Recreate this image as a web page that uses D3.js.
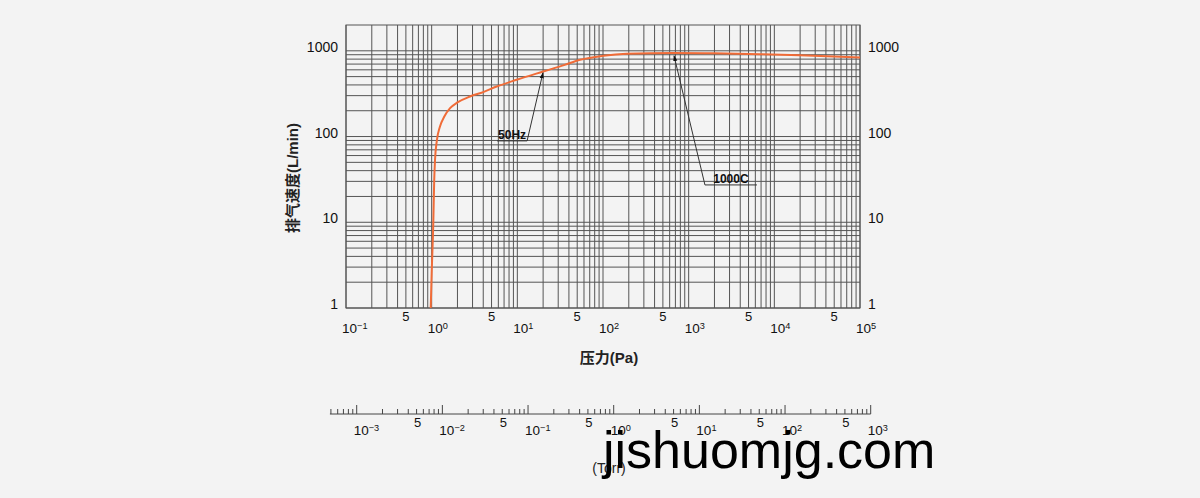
<!DOCTYPE html>
<html><head><meta charset="utf-8">
<script src="https://cdn.jsdelivr.net/npm/d3@7"></script>
<style>
html,body{margin:0;padding:0;background:#f3f3f3;}
svg{display:block;font-family:"Liberation Sans",Arial,Helvetica,sans-serif;}
</style></head>
<body><svg id="chart" width="1200" height="498"></svg>
<script>
// ---- data ----
const pressurePa = [0.975, 1.0, 1.045, 1.07, 1.094, 1.15, 1.25, 1.4, 1.64, 2.0, 2.8, 4, 5.74, 9.8, 20, 35, 54, 101, 189, 661, 2000, 6760, 20000, 50000, 100000];
const speedLmin  = [1, 2.5, 10, 30, 53, 90, 131, 170, 214, 250, 293, 330, 383, 459, 573, 680, 785, 874, 922, 940, 935, 914, 890, 860, 836];
const yTickValues = [1, 10, 100, 1000];
const yTickLabels = ["1", "10", "100", "1000"];
const xDecades = [-1, 0, 1, 2, 3, 4, 5];
const xFiveDecades = [-1, 0, 1, 2, 3, 4];
const torrDecades = [-3, -2, -1, 0, 1, 2, 3];
const torrFiveDecades = [-3, -2, -1, 0, 1, 2];
const torrMinorStart = [5e-4, 6e-4, 7e-4, 8e-4, 9e-4];
const annotations = [
  {text: "50Hz", tip: [19.9, 553], lineFrom: [13, 91.4], lineTo: [5.8, 91.4]},
  {text: "1000C", tip: [675, 874], lineFrom: [1549, 28], lineTo: [6266, 28]}
];
const xTitle = "压力(Pa)";
const yTitle = "排气速度(L/min)";
const torrTitle = "(Torr)";
const watermark = "jishuomjg.com";
const PA_PER_TORR = 133.322;

// ---- scales ----
const svg = d3.select("#chart");
const x = d3.scaleLog().domain([0.1, 1e5]).range([346, 860]);
const y = d3.scaleLog().domain([1, 2000]).range([308, 25]);
const [x0, x1] = x.range(), [y0, y1] = y.range();

// grid
const vGrid = [];
for (let d = -1; d <= 4; d++) for (let m = 1; m <= 9; m++) vGrid.push(m * Math.pow(10, d));
vGrid.push(1e5);
const hGrid = [];
for (let d = 0; d <= 2; d++) for (let m = 1; m <= 9; m++) hGrid.push(m * Math.pow(10, d));
hGrid.push(1000);

const g = svg.append("g");
g.selectAll("line.v").data(vGrid).join("line")
  .attr("x1", d => x(d)).attr("x2", d => x(d)).attr("y1", y1).attr("y2", y0)
  .attr("stroke", "#555").attr("stroke-width", 1);
g.selectAll("line.h").data(hGrid).join("line")
  .attr("y1", d => y(d)).attr("y2", d => y(d)).attr("x1", x0).attr("x2", x1)
  .attr("stroke", "#555").attr("stroke-width", 1);
g.append("rect").attr("x", x0).attr("y", y1).attr("width", x1 - x0).attr("height", y0 - y1)
  .attr("fill", "none").attr("stroke", "#555").attr("stroke-width", 1);

// y labels both sides
yTickValues.forEach((v, i) => {
  svg.append("text").attr("x", 338).attr("y", y(v) + 1).attr("text-anchor", "end")
    .attr("font-size", 14).attr("fill", "#111").text(yTickLabels[i]);
  svg.append("text").attr("x", 868).attr("y", y(v) + 1).attr("text-anchor", "start")
    .attr("font-size", 14).attr("fill", "#111").text(yTickLabels[i]);
});

// decade label helper
function decadeLabel(px, base, exp, size) {
  const t = svg.append("text").attr("x", px).attr("y", base).attr("font-size", size).attr("fill", "#111");
  t.append("tspan").text("10");
  t.append("tspan").attr("font-size", size * 0.68).attr("dy", -size * 0.3)
    .text(exp < 0 ? "\u2212" + (-exp) : String(exp));
}

// x labels
xFiveDecades.forEach(d => {
  svg.append("text").attr("x", x(5 * Math.pow(10, d))).attr("y", 321).attr("text-anchor", "middle")
    .attr("font-size", 13).attr("fill", "#111").text("5");
});
xDecades.forEach(d => decadeLabel(x(Math.pow(10, d)) - 4, 333, d, 13.5));

// titles
svg.append("text").attr("x", 609).attr("y", 363).attr("text-anchor", "middle")
  .attr("font-size", 15).attr("font-weight", "bold").attr("fill", "#222")
  .attr("font-family", "'Liberation Sans','Noto Sans CJK SC',sans-serif").text(xTitle);
svg.append("text").attr("transform", "translate(298,178) rotate(-90)").attr("text-anchor", "middle")
  .attr("font-size", 15).attr("font-weight", "bold").attr("fill", "#222")
  .attr("font-family", "'Liberation Sans','Noto Sans CJK SC',sans-serif").text(yTitle);

// curve
const line = d3.line().x(d => x(d[0])).y(d => y(d[1])).curve(d3.curveMonotoneX);
svg.append("path").datum(pressurePa.map((p, i) => [p, speedLmin[i]]))
  .attr("d", line).attr("fill", "none").attr("stroke", "#f06c38").attr("stroke-width", 2);

// annotations
svg.append("defs").append("marker").attr("id", "arr").attr("viewBox", "0 0 10 10")
  .attr("refX", 9).attr("refY", 5).attr("markerWidth", 6).attr("markerHeight", 6)
  .attr("orient", "auto").append("path").attr("d", "M0,1.5 L10,5 L0,8.5 Z").attr("fill", "#111");
annotations.forEach(a => {
  svg.append("line").attr("x1", x(a.lineTo[0])).attr("y1", y(a.lineTo[1]) + 1)
    .attr("x2", x(a.lineFrom[0])).attr("y2", y(a.lineFrom[1]) + 1).attr("stroke", "#333").attr("stroke-width", 1);
  const fx = a.lineFrom[0] < a.lineTo[0] ? x(a.lineFrom[0]) : x(a.lineFrom[0]);
  svg.append("line").attr("x1", fx).attr("y1", y(a.lineFrom[1]) + 1)
    .attr("x2", x(a.tip[0])).attr("y2", y(a.tip[1])).attr("stroke", "#333").attr("stroke-width", 1)
    .attr("marker-end", "url(#arr)");
  const cx = (x(a.lineFrom[0]) + x(a.lineTo[0])) / 2;
  svg.append("text").attr("x", cx).attr("y", y(a.lineFrom[1]) - 1).attr("text-anchor", "middle")
    .attr("font-size", 12).attr("font-weight", "bold").attr("fill", "#111").text(a.text);
});

// Torr axis
const tx = v => x(v * PA_PER_TORR);
const torrY = 414;
svg.append("line").attr("x1", tx(5e-4) - 1).attr("x2", tx(1e3)).attr("y1", torrY).attr("y2", torrY)
  .attr("stroke", "#444").attr("stroke-width", 1);
const torrMinor = torrMinorStart.slice();
for (let d = -3; d <= 2; d++) for (let m = 2; m <= 9; m++) torrMinor.push(m * Math.pow(10, d));
svg.selectAll("line.tm").data(torrMinor).join("line")
  .attr("x1", d => tx(d)).attr("x2", d => tx(d)).attr("y1", torrY).attr("y2", torrY - 5)
  .attr("stroke", "#444").attr("stroke-width", 1);
svg.selectAll("line.tM").data(torrDecades).join("line")
  .attr("x1", d => tx(Math.pow(10, d))).attr("x2", d => tx(Math.pow(10, d))).attr("y1", torrY).attr("y2", torrY - 9)
  .attr("stroke", "#444").attr("stroke-width", 1);
torrFiveDecades.forEach(d => {
  svg.append("text").attr("x", tx(5 * Math.pow(10, d)) + 1).attr("y", 427).attr("text-anchor", "middle")
    .attr("font-size", 13).attr("fill", "#111").text("5");
});
torrDecades.forEach(d => decadeLabel(tx(Math.pow(10, d)) - 3, 435, d, 13.5));
svg.append("text").attr("x", 609).attr("y", 473).attr("text-anchor", "middle")
  .attr("font-size", 14).attr("fill", "#222").text(torrTitle);

// watermark
svg.append("text").attr("x", 603).attr("y", 468).attr("font-size", 52).attr("fill", "#000").text(watermark);
</script></body></html>
